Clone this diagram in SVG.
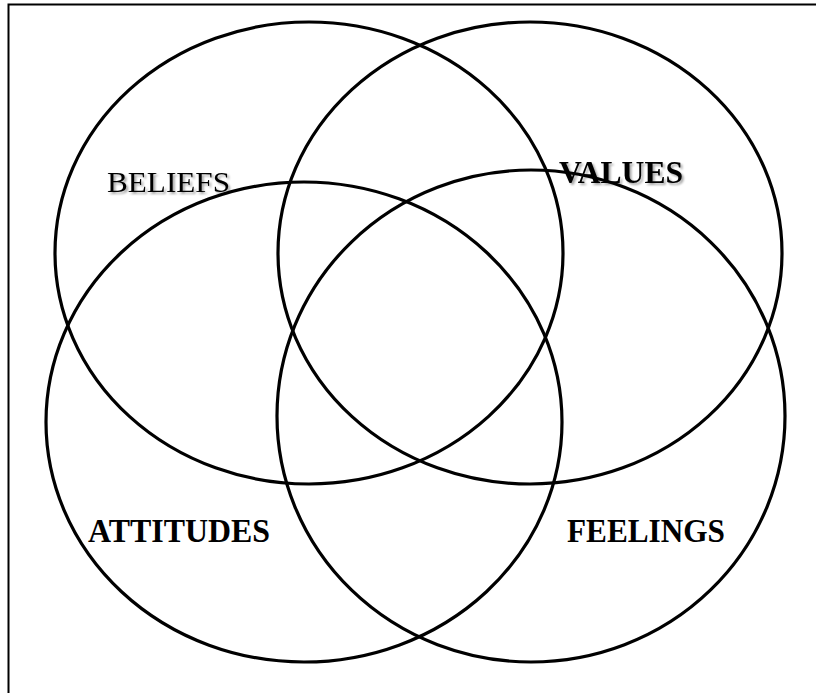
<svg xmlns="http://www.w3.org/2000/svg" width="816" height="693" viewBox="0 0 816 693">
<defs>
<filter id="sh" x="-10%" y="-30%" width="120%" height="160%">
<feDropShadow dx="2" dy="2" stdDeviation="1.2" flood-color="#000" flood-opacity="0.35"/>
</filter>
</defs>
<style>
.c{fill:none;stroke:#000;stroke-width:3.2}
.t{font-family:"Liberation Serif","Times New Roman",serif;fill:#000}
.b{font-weight:bold}
</style>
<rect width="816" height="693" fill="#fff"/>
<path d="M8.5 693 V4.5 H816" fill="none" stroke="#000" stroke-width="2"/>
<g id="beliefs"><ellipse class="c" cx="309" cy="253" rx="254" ry="231"/><text class="t" x="107" y="192" font-size="30" textLength="123" lengthAdjust="spacingAndGlyphs" filter="url(#sh)">BELIEFS</text></g>
<g id="values"><ellipse class="c" cx="530" cy="253" rx="252" ry="231"/><text class="t b" x="559" y="183" font-size="31" textLength="124" lengthAdjust="spacingAndGlyphs" filter="url(#sh)">VALUES</text></g>
<g id="attitudes"><ellipse class="c" cx="304" cy="422" rx="258" ry="240"/><text class="t b" x="88" y="542" font-size="33" textLength="182" lengthAdjust="spacingAndGlyphs">ATTITUDES</text></g>
<g id="feelings"><ellipse class="c" cx="531" cy="416" rx="254" ry="246"/><text class="t b" x="567" y="542" font-size="33" textLength="158" lengthAdjust="spacingAndGlyphs">FEELINGS</text></g>
<g id="connectors"></g>
</svg>
